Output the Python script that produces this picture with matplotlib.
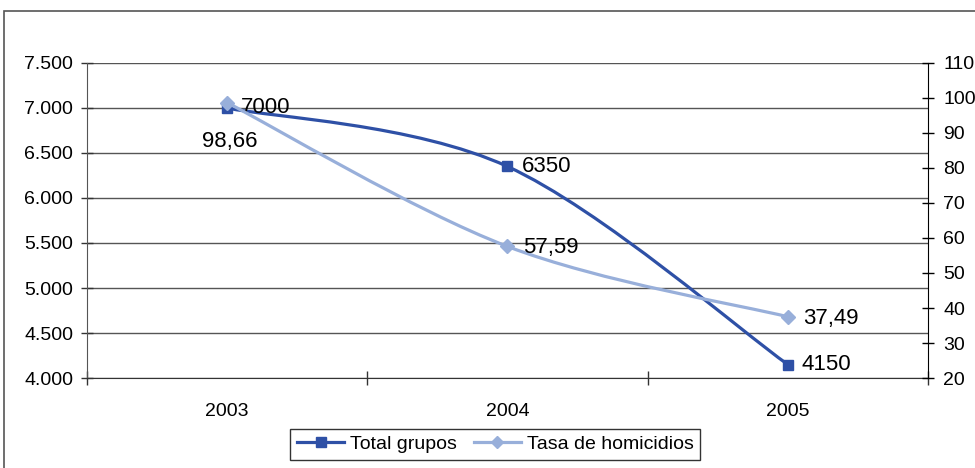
import matplotlib
matplotlib.use("Agg")
import numpy as np
import matplotlib.pyplot as plt
from matplotlib.path import Path
from matplotlib.patches import PathPatch, Rectangle
from matplotlib.lines import Line2D
from matplotlib.ticker import FuncFormatter

plt.rcParams['font.family'] = ['Liberation Sans', 'DejaVu Sans']

years = ['2003', '2004', '2005']
total_grupos = [7000, 6350, 4150]
tasa_homicidios = [98.66, 57.59, 37.49]
total_labels = ['7000', '6350', '4150']
tasa_labels = ['98,66', '57,59', '37,49']

dark_blue = '#2E50A6'
light_blue = '#98AFDA'


def smooth_path(xs, ys):
    # excel style smoothed line: catmull-rom turned into cubic bezier
    pts = np.column_stack([xs, ys]).astype(float)
    n = len(pts)
    verts = [pts[0]]
    codes = [Path.MOVETO]
    for i in range(n - 1):
        p_prev = pts[max(i - 1, 0)]
        p0 = pts[i]
        p1 = pts[i + 1]
        p_next = pts[min(i + 2, n - 1)]
        c1 = p0 + (p1 - p_prev) / 6.0
        c2 = p1 - (p_next - p0) / 6.0
        verts += [c1, c2, p1]
        codes += [Path.CURVE4] * 3
    return Path(verts, codes)


fig = plt.figure(figsize=(9.75, 4.68), dpi=100)
ax = fig.add_axes([0.0892, 0.1923, 0.8626, 0.6731])
ax2 = ax.twinx()

x = np.arange(len(years))

# outer chart frame
fig.patches.append(Rectangle((0.004, -0.2), 1.5, 1.177, transform=fig.transFigure,
                             fill=False, edgecolor='#555555', linewidth=1.2))

ax.add_patch(PathPatch(smooth_path(x, total_grupos), fill=False,
                       edgecolor=dark_blue, linewidth=2.3, zorder=3))
ax.plot(x, total_grupos, linestyle='none', marker='s', markersize=7,
        color=dark_blue, zorder=4)

ax2.add_patch(PathPatch(smooth_path(x, tasa_homicidios), fill=False,
                        edgecolor=light_blue, linewidth=2.3, zorder=3))
ax2.plot(x, tasa_homicidios, linestyle='none', marker='D', markersize=7,
         color=light_blue, zorder=4)

# data labels
for i, lab in enumerate(total_labels):
    ax.annotate(lab, (x[i], total_grupos[i]), xytext=(10, 0), textcoords='offset points',
                ha='left', va='center', fontsize=16)
for i, lab in enumerate(tasa_labels):
    if i == 0:
        ax2.annotate(lab, (x[i], tasa_homicidios[i]), xytext=(2, -28),
                     textcoords='offset points', ha='center', va='center', fontsize=16)
    else:
        ax2.annotate(lab, (x[i], tasa_homicidios[i]), xytext=(11, -1),
                     textcoords='offset points', ha='left', va='center', fontsize=16)

ax.set_xlim(-0.5, 2.5)
ax.set_ylim(4000, 7500)
ax.set_yticks(np.arange(4000, 7501, 500))
ax.yaxis.set_major_formatter(FuncFormatter(lambda v, p: f'{int(v):,}'.replace(',', '.')))
ax2.set_ylim(20, 110)
ax2.set_yticks(np.arange(20, 111, 10))

ax.set_xticks(x)
ax.set_xticklabels(years)
ax.set_xticks([-0.5, 0.5, 1.5, 2.5], minor=True)
ax.tick_params(axis='x', which='major', length=0, pad=18, labelsize=14)
ax.tick_params(axis='x', which='minor', direction='inout', length=10, width=1, color='#333333')
ax.tick_params(axis='y', direction='inout', length=8, width=1, color='#333333', labelsize=14, pad=6)
ax2.tick_params(axis='y', direction='inout', length=8, width=1, color='black', labelsize=14, pad=7)

ax.yaxis.grid(True, color='#555555', linewidth=1)
ax.set_axisbelow(True)

for sp in ['top']:
    ax.spines[sp].set_visible(False)
    ax2.spines[sp].set_visible(False)
ax.spines['left'].set_color('#555555')
ax.spines['bottom'].set_color('#333333')
ax2.spines['left'].set_visible(False)
ax2.spines['bottom'].set_visible(False)
ax2.spines['right'].set_color('black')
ax.spines['right'].set_visible(False)
ax2.patch.set_visible(False)

handles = [Line2D([], [], color=dark_blue, linewidth=2.3, marker='s', markersize=7),
           Line2D([], [], color=light_blue, linewidth=2.3, marker='D', markersize=6)]
leg = fig.legend(handles, ['Total grupos', 'Tasa de homicidios'], loc='center',
                 bbox_to_anchor=(0.508, 0.051), ncol=2, fontsize=14, frameon=True,
                 fancybox=False, handlelength=2.4, handletextpad=0.3, columnspacing=0.9,
                 borderpad=0.35)
leg.get_frame().set_edgecolor('black')
leg.get_frame().set_linewidth(1)

fig.savefig('out.png', dpi=100)
